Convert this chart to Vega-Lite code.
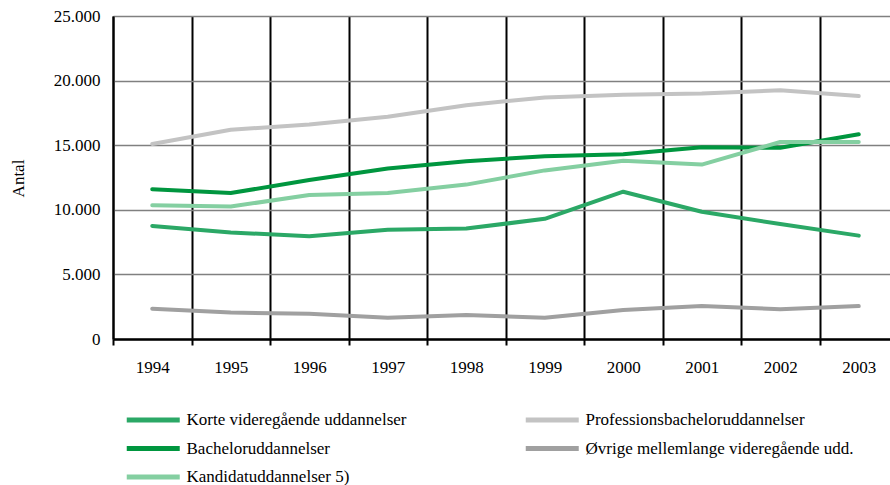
{
  "$schema": "https://vega.github.io/schema/vega-lite/v6.json",
  "width": 777,
  "height": 323,
  "autosize": {"type": "none"},
  "padding": {"left": 113, "top": 16, "right": 0, "bottom": 146},
  "background": "white",
  "config": {
    "font": "Times New Roman",
    "view": {"stroke": null}
  },
  "data": {
    "values": [
      {"year": "1994", "type": "Korte videregående uddannelser", "value": 8750},
      {"year": "1995", "type": "Korte videregående uddannelser", "value": 8250},
      {"year": "1996", "type": "Korte videregående uddannelser", "value": 7950},
      {"year": "1997", "type": "Korte videregående uddannelser", "value": 8450},
      {"year": "1998", "type": "Korte videregående uddannelser", "value": 8550},
      {"year": "1999", "type": "Korte videregående uddannelser", "value": 9300},
      {"year": "2000", "type": "Korte videregående uddannelser", "value": 11400},
      {"year": "2001", "type": "Korte videregående uddannelser", "value": 9850},
      {"year": "2002", "type": "Korte videregående uddannelser", "value": 8900},
      {"year": "2003", "type": "Korte videregående uddannelser", "value": 8000},
      {"year": "1994", "type": "Professionsbacheloruddannelser", "value": 15100},
      {"year": "1995", "type": "Professionsbacheloruddannelser", "value": 16200},
      {"year": "1996", "type": "Professionsbacheloruddannelser", "value": 16600},
      {"year": "1997", "type": "Professionsbacheloruddannelser", "value": 17200},
      {"year": "1998", "type": "Professionsbacheloruddannelser", "value": 18100},
      {"year": "1999", "type": "Professionsbacheloruddannelser", "value": 18700},
      {"year": "2000", "type": "Professionsbacheloruddannelser", "value": 18900},
      {"year": "2001", "type": "Professionsbacheloruddannelser", "value": 19000},
      {"year": "2002", "type": "Professionsbacheloruddannelser", "value": 19250},
      {"year": "2003", "type": "Professionsbacheloruddannelser", "value": 18800},
      {"year": "1994", "type": "Bacheloruddannelser", "value": 11600},
      {"year": "1995", "type": "Bacheloruddannelser", "value": 11300},
      {"year": "1996", "type": "Bacheloruddannelser", "value": 12300},
      {"year": "1997", "type": "Bacheloruddannelser", "value": 13200},
      {"year": "1998", "type": "Bacheloruddannelser", "value": 13750},
      {"year": "1999", "type": "Bacheloruddannelser", "value": 14150},
      {"year": "2000", "type": "Bacheloruddannelser", "value": 14300},
      {"year": "2001", "type": "Bacheloruddannelser", "value": 14850},
      {"year": "2002", "type": "Bacheloruddannelser", "value": 14800},
      {"year": "2003", "type": "Bacheloruddannelser", "value": 15850},
      {"year": "1994", "type": "Øvrige mellemlange videregående udd.", "value": 2350},
      {"year": "1995", "type": "Øvrige mellemlange videregående udd.", "value": 2050},
      {"year": "1996", "type": "Øvrige mellemlange videregående udd.", "value": 1950},
      {"year": "1997", "type": "Øvrige mellemlange videregående udd.", "value": 1650},
      {"year": "1998", "type": "Øvrige mellemlange videregående udd.", "value": 1850},
      {"year": "1999", "type": "Øvrige mellemlange videregående udd.", "value": 1650},
      {"year": "2000", "type": "Øvrige mellemlange videregående udd.", "value": 2250},
      {"year": "2001", "type": "Øvrige mellemlange videregående udd.", "value": 2550},
      {"year": "2002", "type": "Øvrige mellemlange videregående udd.", "value": 2300},
      {"year": "2003", "type": "Øvrige mellemlange videregående udd.", "value": 2550},
      {"year": "1994", "type": "Kandidatuddannelser 5)", "value": 10350},
      {"year": "1995", "type": "Kandidatuddannelser 5)", "value": 10250},
      {"year": "1996", "type": "Kandidatuddannelser 5)", "value": 11150},
      {"year": "1997", "type": "Kandidatuddannelser 5)", "value": 11300},
      {"year": "1998", "type": "Kandidatuddannelser 5)", "value": 11950},
      {"year": "1999", "type": "Kandidatuddannelser 5)", "value": 13050},
      {"year": "2000", "type": "Kandidatuddannelser 5)", "value": 13800},
      {"year": "2001", "type": "Kandidatuddannelser 5)", "value": 13500},
      {"year": "2002", "type": "Kandidatuddannelser 5)", "value": 15250},
      {"year": "2003", "type": "Kandidatuddannelser 5)", "value": 15250}
    ]
  },
  "mark": {"type": "line", "strokeWidth": 4, "strokeCap": "round", "strokeJoin": "round"},
  "encoding": {
    "x": {
      "field": "year",
      "type": "ordinal",
      "scale": {"type": "band", "range": [0, 785], "paddingInner": 0, "paddingOuter": 0},
      "axis": {
        "title": null,
        "labelAngle": 0,
        "labelFont": "Times New Roman",
        "labelFontSize": 17,
        "labelColor": "black",
        "labelPadding": 14,
        "tickBand": "extent",
        "grid": true,
        "gridColor": "black",
        "gridWidth": 2,
        "domainColor": "black",
        "domainWidth": 2.5,
        "tickColor": "black",
        "tickWidth": 2,
        "tickSize": 6
      }
    },
    "y": {
      "field": "value",
      "type": "quantitative",
      "scale": {"domain": [0, 25000], "nice": false},
      "axis": {
        "title": "Antal",
        "titleFont": "Times New Roman",
        "titleFontSize": 17,
        "titleFontWeight": "normal",
        "titleColor": "black",
        "titleX": -95,
        "titleY": 162,
        "titleAngle": -90,
        "titleAlign": "center",
        "titleBaseline": "middle",
        "values": [0, 5000, 10000, 15000, 20000, 25000],
        "labelExpr": "replace(format(datum.value, ',d'), ',', '.')",
        "labelFont": "Times New Roman",
        "labelFontSize": 17,
        "labelColor": "black",
        "labelPadding": 13,
        "ticks": false,
        "grid": true,
        "gridColor": "#808080",
        "gridWidth": 1.5,
        "gridOpacity": 1,
        "domainColor": "black",
        "domainWidth": 2
      }
    },
    "color": {
      "field": "type",
      "type": "nominal",
      "scale": {
        "domain": ["Korte videregående uddannelser", "Bacheloruddannelser", "Kandidatuddannelser 5)", "Professionsbacheloruddannelser", "Øvrige mellemlange videregående udd."],
        "range": ["#2ba866", "#00963f", "#84cfa1", "#c3c3c3", "#a0a0a0"]
      },
      "legend": {
        "title": null,
        "orient": "none",
        "legendX": 11,
        "legendY": 388,
        "columns": 2,
        "columnPadding": 108,
        "rowPadding": 2.5,
        "symbolType": "M-1,0H3",
        "symbolSize": 702,
        "symbolStrokeWidth": 5,
        "labelFont": "Times New Roman",
        "labelFontSize": 17,
        "labelColor": "black",
        "labelOffset": 30.5,
        "labelLimit": 400
      }
    }
  }
}
